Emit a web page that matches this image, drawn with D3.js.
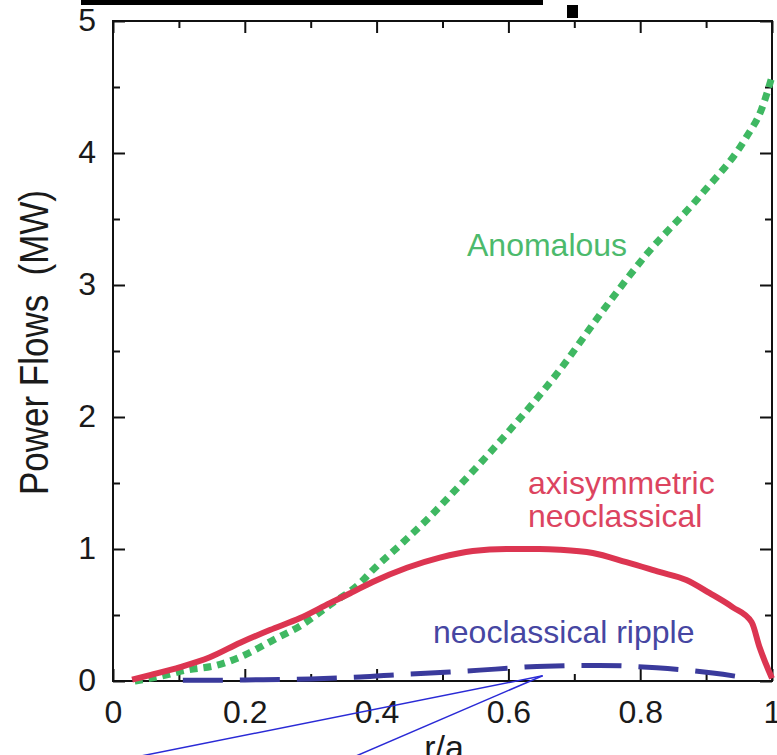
<!DOCTYPE html>
<html>
<head>
<meta charset="utf-8">
<script src="https://cdn.jsdelivr.net/npm/d3@7"></script>
<style>
  html, body { margin: 0; padding: 0; background: #fff; }
  svg { display: block; }
  text { font-family: "Liberation Sans", Arial, Helvetica, sans-serif; }
</style>
</head>
<body>
<svg id="chart" width="777" height="755"></svg>
<script>
// ---- data ----
const xMajorTicks = [0, 0.2, 0.4, 0.6, 0.8, 1];
const xMinorTicks = [0.1, 0.3, 0.5, 0.7, 0.9];
const xTickLabels = ["0", "0.2", "0.4", "0.6", "0.8", "1"];
const yMajorTicks = [0, 1, 2, 3, 4, 5];
const yMinorTicks = [0.5, 1.5, 2.5, 3.5, 4.5];
const yTickLabels = ["0", "1", "2", "3", "4", "5"];

// axisymmetric neoclassical (red, solid)
const neoR = [0.029, 0.056, 0.102, 0.147, 0.193, 0.238, 0.284, 0.329, 0.36, 0.394, 0.446, 0.496, 0.546, 0.597, 0.647, 0.678, 0.728, 0.779, 0.829, 0.87, 0.905, 0.94, 0.969, 0.981, 1.0];
const neoP = [0.01, 0.045, 0.106, 0.18, 0.29, 0.386, 0.477, 0.59, 0.665, 0.75, 0.858, 0.935, 0.985, 1.0, 1.0, 0.995, 0.97, 0.9, 0.826, 0.765, 0.667, 0.56, 0.447, 0.258, 0.02];

// anomalous (green, dotted)
const anomR = [0.033, 0.067, 0.112, 0.158, 0.2, 0.243, 0.284, 0.329, 0.375, 0.394, 0.44, 0.48, 0.522, 0.561, 0.602, 0.678, 0.741, 0.811, 0.89, 0.961, 0.984, 1.0];
const anomP = [0.0, 0.03, 0.083, 0.12, 0.197, 0.31, 0.417, 0.576, 0.742, 0.84, 1.05, 1.24, 1.46, 1.67, 1.9, 2.356, 2.79, 3.24, 3.67, 4.12, 4.33, 4.58];

// neoclassical ripple (blue, dashed)
const ripR = [0.106, 0.2, 0.3, 0.375, 0.44, 0.511, 0.58, 0.643, 0.738, 0.825, 0.91, 0.966];
const ripP = [0.005, 0.008, 0.015, 0.03, 0.05, 0.068, 0.09, 0.11, 0.118, 0.1, 0.06, 0.02];

const svg = d3.select("#chart");
const x = d3.scaleLinear().domain([0, 1]).range([113, 772]);
const y = d3.scaleLinear().domain([0, 5]).range([681, 21]);

// stray black marks at the top of the reference
svg.append("rect").attr("x", 81).attr("y", 0).attr("width", 462).attr("height", 5).attr("fill", "#000");
svg.append("rect").attr("x", 567).attr("y", 5).attr("width", 11).attr("height", 13).attr("fill", "#000");

// frame
svg.append("rect")
  .attr("x", x(0)).attr("y", y(5))
  .attr("width", x(1) - x(0)).attr("height", y(0) - y(5))
  .attr("fill", "none").attr("stroke", "#111").attr("stroke-width", 2);

function styleAxis(g) {
  g.select(".domain").remove();
  g.selectAll(".tick line").attr("stroke", "#111").attr("stroke-width", 2);
}

// bottom
const gB = svg.append("g").attr("transform", `translate(0,${y(0)})`)
  .call(d3.axisBottom(x).tickValues(xMajorTicks).tickSize(-12).tickPadding(19)
    .tickFormat((d, i) => xTickLabels[i]));
styleAxis(gB);
gB.selectAll("text").attr("font-size", 32).attr("fill", "#1a1a1a")
  .attr("font-family", '"Liberation Sans", Arial, sans-serif');
svg.append("g").attr("transform", `translate(0,${y(0)})`)
  .call(d3.axisBottom(x).tickValues(xMinorTicks).tickSize(-7).tickFormat(""))
  .call(styleAxis);
// top
svg.append("g").attr("transform", `translate(0,${y(5)})`)
  .call(d3.axisTop(x).tickValues(xMajorTicks).tickSize(-12).tickFormat(""))
  .call(styleAxis);
svg.append("g").attr("transform", `translate(0,${y(5)})`)
  .call(d3.axisTop(x).tickValues(xMinorTicks).tickSize(-7).tickFormat(""))
  .call(styleAxis);
// left
const gL = svg.append("g").attr("transform", `translate(${x(0)},0)`)
  .call(d3.axisLeft(y).tickValues(yMajorTicks).tickSize(-12).tickPadding(17)
    .tickFormat((d, i) => yTickLabels[i]));
styleAxis(gL);
gL.selectAll("text").attr("font-size", 32).attr("fill", "#1a1a1a").attr("dy", "0.3em")
  .attr("font-family", '"Liberation Sans", Arial, sans-serif');
svg.append("g").attr("transform", `translate(${x(0)},0)`)
  .call(d3.axisLeft(y).tickValues(yMinorTicks).tickSize(-7).tickFormat(""))
  .call(styleAxis);
// right
svg.append("g").attr("transform", `translate(${x(1)},0)`)
  .call(d3.axisRight(y).tickValues(yMajorTicks).tickSize(-12).tickFormat(""))
  .call(styleAxis);
svg.append("g").attr("transform", `translate(${x(1)},0)`)
  .call(d3.axisRight(y).tickValues(yMinorTicks).tickSize(-7).tickFormat(""))
  .call(styleAxis);

// curves
const line = d3.line().x(d => x(d[0])).y(d => y(d[1])).curve(d3.curveMonotoneX);

svg.append("path").datum(d3.zip(ripR, ripP))
  .attr("d", line).attr("fill", "none")
  .attr("stroke", "#3a3a9c").attr("stroke-width", 5)
  .attr("stroke-dasharray", "40,17");

svg.append("path").datum(d3.zip(anomR, anomP))
  .attr("d", line).attr("fill", "none")
  .attr("stroke", "#3fb862").attr("stroke-width", 7)
  .attr("stroke-dasharray", "8,6");

svg.append("path").datum(d3.zip(neoR, neoP))
  .attr("d", line).attr("fill", "none")
  .attr("stroke", "#dc3551").attr("stroke-width", 6);

// annotation lines (blue)
const tip = [0.652, 0.04];
svg.append("line").attr("x1", x(tip[0])).attr("y1", y(tip[1])).attr("x2", 141).attr("y2", 756)
  .attr("stroke", "#2a2ad6").attr("stroke-width", 1.5);
svg.append("line").attr("x1", x(tip[0])).attr("y1", y(tip[1])).attr("x2", 356).attr("y2", 756)
  .attr("stroke", "#2a2ad6").attr("stroke-width", 1.5);

// annotations
svg.append("text").attr("x", 467).attr("y", 256).attr("font-size", 32)
  .attr("fill", "#4cba6c").text("Anomalous");
svg.append("text").attr("x", 528).attr("y", 494).attr("font-size", 32)
  .attr("fill", "#dc4460").text("axisymmetric");
svg.append("text").attr("x", 528).attr("y", 527).attr("font-size", 32)
  .attr("fill", "#dc4460").text("neoclassical");
svg.append("text").attr("x", 433).attr("y", 643).attr("font-size", 32)
  .attr("fill", "#4646a2").text("neoclassical ripple");

// axis titles
svg.append("text").attr("x", 444).attr("y", 759).attr("text-anchor", "middle")
  .attr("font-size", 34).attr("fill", "#1a1a1a").text("r/a");
svg.append("text")
  .attr("transform", "translate(48,495) rotate(-90)")
  .attr("font-size", 41).attr("fill", "#1a1a1a")
  .attr("textLength", 305).attr("lengthAdjust", "spacingAndGlyphs")
  .style("white-space", "pre")
  .text("Power Flows  (MW)");
</script>
</body>
</html>
